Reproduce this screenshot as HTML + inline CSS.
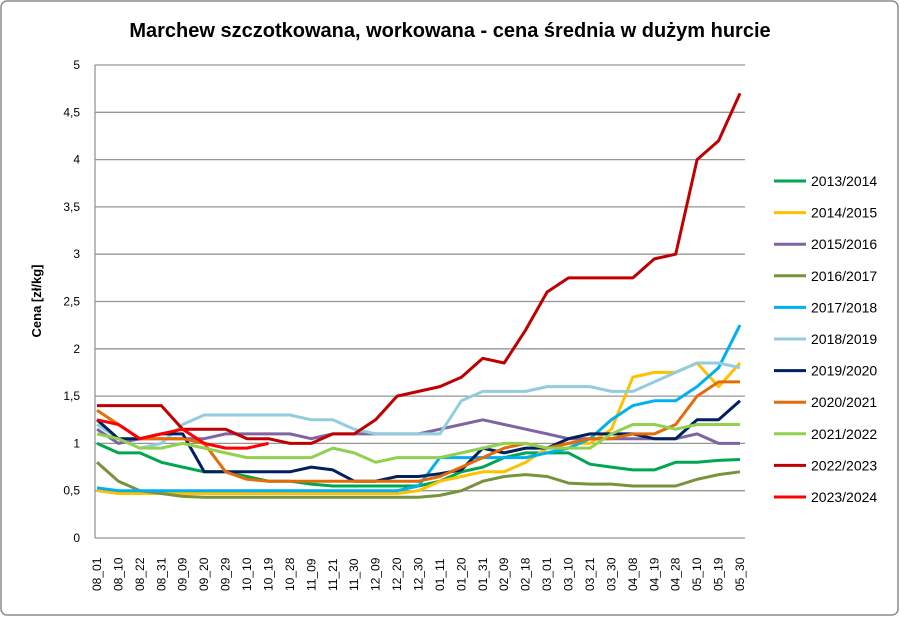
<!DOCTYPE html>
<html><head><meta charset="utf-8"><style>
body{margin:0;background:#fff;}
svg text{font-family:"Liberation Sans",Arial,sans-serif;}
</style></head><body>
<svg id="chart" width="900" height="617" viewBox="0 0 900 617" xmlns="http://www.w3.org/2000/svg">
<rect x="1" y="1" width="897" height="614" rx="6" fill="#fff" stroke="#8c8c8c" stroke-width="1.5"/>
<text x="450" y="37" text-anchor="middle" font-size="20" font-weight="bold" fill="#000">Marchew szczotkowana, workowana - cena średnia w dużym hurcie</text>
<text transform="translate(41,301) rotate(-90)" text-anchor="middle" font-size="13" font-weight="bold">Cena [zł/kg]</text>
<g id="grid"></g><g id="series"></g><g id="legend"></g>
</svg>
<script>
const categories=["08_01","08_10","08_22","08_31","09_09","09_20","09_29","10_10","10_19","10_28","11_09","11_21","11_30","12_09","12_20","12_30","01_11","01_20","01_31","02_09","02_18","03_01","03_10","03_21","03_30","04_08","04_19","04_28","05_10","05_19","05_30"];
const yTicks=[0,0.5,1,1.5,2,2.5,3,3.5,4,4.5,5];
const yTickLabels=["0","0,5","1","1,5","2","2,5","3","3,5","4","4,5","5"];
const seriesNames=["2013/2014","2014/2015","2015/2016","2016/2017","2017/2018","2018/2019","2019/2020","2020/2021","2021/2022","2022/2023","2023/2024"];
const seriesColors=["#00a650","#ffc000","#8064a2","#77933c","#00b0f0","#93cddd","#002060","#e36c09","#92d050","#c00000","#ff0000"];
const s2013=[1.0,0.9,0.9,0.8,0.75,0.7,0.7,0.65,0.6,0.6,0.57,0.55,0.55,0.55,0.55,0.55,0.6,0.7,0.75,0.85,0.9,0.9,0.9,0.78,0.75,0.72,0.72,0.8,0.8,0.82,0.83];
const s2014=[0.5,0.47,0.47,0.47,0.47,0.47,0.47,0.47,0.47,0.47,0.47,0.47,0.47,0.47,0.47,0.5,0.6,0.65,0.7,0.7,0.8,0.95,1.0,1.0,1.15,1.7,1.75,1.75,1.85,1.6,1.85];
const s2015=[1.15,1.0,1.05,1.05,1.05,1.05,1.1,1.1,1.1,1.1,1.05,1.1,1.1,1.1,1.1,1.1,1.15,1.2,1.25,1.2,1.15,1.1,1.05,1.05,1.05,1.05,1.05,1.05,1.1,1.0,1.0];
const s2016=[0.8,0.6,0.5,0.47,0.44,0.43,0.43,0.43,0.43,0.43,0.43,0.43,0.43,0.43,0.43,0.43,0.45,0.5,0.6,0.65,0.67,0.65,0.58,0.57,0.57,0.55,0.55,0.55,0.62,0.67,0.7];
const s2017=[0.53,0.5,0.5,0.5,0.5,0.5,0.5,0.5,0.5,0.5,0.5,0.5,0.5,0.5,0.5,0.55,0.85,0.85,0.85,0.85,0.85,0.9,0.95,1.05,1.25,1.4,1.45,1.45,1.6,1.8,2.25];
const s2018=[1.2,1.05,0.95,1.0,1.2,1.3,1.3,1.3,1.3,1.3,1.25,1.25,1.15,1.1,1.1,1.1,1.1,1.45,1.55,1.55,1.55,1.6,1.6,1.6,1.55,1.55,1.65,1.75,1.85,1.85,1.8];
const s2019=[1.25,1.05,1.05,1.1,1.1,0.7,0.7,0.7,0.7,0.7,0.75,0.72,0.6,0.6,0.65,0.65,0.68,0.72,0.95,0.9,0.95,0.95,1.05,1.1,1.1,1.1,1.05,1.05,1.25,1.25,1.45];
const s2020=[1.35,1.2,1.05,1.05,1.05,1.0,0.7,0.62,0.6,0.6,0.6,0.6,0.6,0.6,0.6,0.6,0.65,0.75,0.85,0.95,1.0,0.95,1.0,1.05,1.05,1.1,1.1,1.2,1.5,1.65,1.65];
const s2021=[1.1,1.05,0.95,0.95,1.0,0.95,0.9,0.85,0.85,0.85,0.85,0.95,0.9,0.8,0.85,0.85,0.85,0.9,0.95,1.0,1.0,0.95,0.95,0.95,1.1,1.2,1.2,1.15,1.2,1.2,1.2];
const s2022=[1.4,1.4,1.4,1.4,1.15,1.15,1.15,1.05,1.05,1.0,1.0,1.1,1.1,1.25,1.5,1.55,1.6,1.7,1.9,1.85,2.2,2.6,2.75,2.75,2.75,2.75,2.95,3.0,4.0,4.2,4.7];
const s2023=[1.25,1.2,1.05,1.1,1.15,1.0,0.95,0.95,1.0];
const allSeries=[s2013,s2014,s2015,s2016,s2017,s2018,s2019,s2020,s2021,s2022,s2023];

const NS="http://www.w3.org/2000/svg";
const X0=97,X1=740,PL=95,PR=745,Y0=538,YT=65,YMAX=5;
function xScale(i){return X0+i*(X1-X0)/(categories.length-1);}
function yScale(v){return Y0-v*(Y0-YT)/YMAX;}
function mk(tag,attrs,parent){const e=document.createElementNS(NS,tag);for(const k in attrs)e.setAttribute(k,attrs[k]);parent.appendChild(e);return e;}
const grid=document.getElementById('grid');
yTicks.forEach((t,i)=>{
  const l=mk('line',{x1:PL,x2:PR,y1:yScale(t),y2:yScale(t),stroke:'#969696','stroke-width':1.3},grid);
  
  
  const tx=mk('text',{x:80,y:yScale(t)+4,'text-anchor':'end','font-size':12},grid);
  
  
  tx.textContent=yTickLabels[i];
});
const ax=mk('line',{x1:PL,x2:PL,y1:YT,y2:Y0,stroke:'#969696','stroke-width':1.3},grid);


categories.forEach((c,i)=>{
  const x=xScale(i);
  const tx=mk('text',{transform:`translate(${x+4},591) rotate(-90)`,'font-size':12},grid);
  
  
  tx.textContent=c;
});
const sg=document.getElementById('series');
allSeries.forEach((arr,k)=>{
  const pts=arr.map((v,i)=>xScale(i).toFixed(1)+','+yScale(v).toFixed(1)).join(' ');
  const p=mk('polyline',{points:pts,fill:'none',stroke:seriesColors[k],'stroke-width':3,'stroke-linejoin':'round'},sg);
  
  
});
const lg=document.getElementById('legend');
seriesNames.forEach((n,k)=>{
  const y=181+k*31.6;
  const g=mk('g',{},lg);
  
  
  mk('line',{x1:774,x2:806,y1:y,y2:y,stroke:seriesColors[k],'stroke-width':3},g);
  const t=mk('text',{x:811,y:y+5,'font-size':14},g);
  t.textContent=n;
});
</script>
</body></html>
